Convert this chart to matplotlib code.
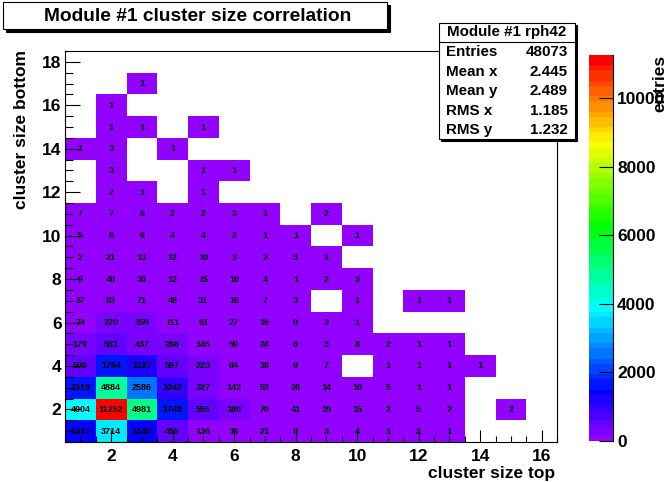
import colorsys
import numpy as np
import matplotlib
matplotlib.use("Agg")
import matplotlib.pyplot as plt
from matplotlib.colors import ListedColormap, BoundaryNorm
from matplotlib.patches import Rectangle
from matplotlib.ticker import MultipleLocator

plt.rcParams['font.family'] = ['Liberation Sans', 'DejaVu Sans']
plt.rcParams['font.weight'] = 'bold'

# ---- data -------------------------------------------------------------
cluster_top = list(range(1, 17))      # x bins (cluster size top)
cluster_bottom = list(range(1, 19))   # y bins (cluster size bottom)

# counts per row (cluster size bottom = 1 .. 18), columns = cluster size top 1 .. 16
row_1 = [1417, 3714, 1440, 455, 136, 38, 21, 8, 3, 4, 1, 2, 1, 0, 0, 0]
row_2 = [4004, 11252, 4981, 1748, 555, 180, 70, 41, 19, 15, 2, 5, 2, 0, 2, 0]
row_3 = [1519, 4884, 2586, 1042, 327, 142, 53, 26, 14, 10, 5, 1, 1, 0, 0, 0]
row_4 = [508, 1754, 1127, 597, 223, 84, 38, 9, 7, 0, 1, 1, 1, 1, 0, 0]
row_5 = [179, 581, 437, 288, 145, 59, 24, 6, 3, 8, 2, 1, 1, 0, 0, 0]
row_6 = [74, 220, 159, 111, 61, 27, 16, 9, 3, 1, 0, 0, 0, 0, 0, 0]
row_7 = [37, 83, 71, 48, 31, 16, 7, 3, 0, 1, 0, 1, 1, 0, 0, 0]
row_8 = [9, 48, 30, 12, 15, 10, 4, 1, 2, 3, 0, 0, 0, 0, 0, 0]
row_9 = [2, 21, 13, 12, 10, 3, 2, 3, 1, 0, 0, 0, 0, 0, 0, 0]
row_10 = [5, 8, 6, 4, 4, 2, 1, 1, 0, 1, 0, 0, 0, 0, 0, 0]
row_11 = [7, 7, 6, 2, 2, 3, 1, 0, 2, 0, 0, 0, 0, 0, 0, 0]
row_12 = [0, 2, 1, 0, 1, 0, 0, 0, 0, 0, 0, 0, 0, 0, 0, 0]
row_13 = [0, 3, 0, 0, 1, 1, 0, 0, 0, 0, 0, 0, 0, 0, 0, 0]
row_14 = [1, 3, 0, 1, 0, 0, 0, 0, 0, 0, 0, 0, 0, 0, 0, 0]
row_15 = [0, 1, 1, 0, 1, 0, 0, 0, 0, 0, 0, 0, 0, 0, 0, 0]
row_16 = [0, 1, 0, 0, 0, 0, 0, 0, 0, 0, 0, 0, 0, 0, 0, 0]
row_17 = [0, 0, 1, 0, 0, 0, 0, 0, 0, 0, 0, 0, 0, 0, 0, 0]
row_18 = [0] * 16

rows = [row_1, row_2, row_3, row_4, row_5, row_6, row_7, row_8, row_9,
        row_10, row_11, row_12, row_13, row_14, row_15, row_16, row_17, row_18]

title_text = "Module #1 cluster size correlation"
stats_name = "Module #1 rph42"
stats_labels = ["Entries", "Mean x", "Mean y", "RMS x", "RMS y"]
stats_values = ["48073", "2.445", "2.489", "1.185", "1.232"]
x_ticks = [2, 4, 6, 8, 10, 12, 14, 16]
y_ticks = [2, 4, 6, 8, 10, 12, 14, 16, 18]
z_ticks = [0, 2000, 4000, 6000, 8000, 10000]

# ---- figure -----------------------------------------------------------
W, H = 667, 482
fig = plt.figure(figsize=(W / 100, H / 100), dpi=100)

def fx(px):
    return px / W

def fy(py):
    return 1 - py / H

Z = np.array(rows, dtype=float)
Zm = np.ma.masked_where(Z <= 0, Z)
zmax = Z.max()

# ROOT "pretty" HLS palette (50 colours) mapped onto contour levels
ncol = 50
palette = []
for i in range(ncol):
    hue = 280 - (i + 1) * 280.0 / ncol
    palette.append(colorsys.hls_to_rgb(hue / 360.0, 0.5, 1.0))
ndivz = 75
cols = [palette[min(ncol - 1, int((k + 0.99) * ncol / ndivz))] for k in range(ndivz)]
cmap = ListedColormap(cols)
levels = np.linspace(0, zmax, ndivz + 1)
norm = BoundaryNorm(levels, ndivz)

ax = fig.add_axes([fx(65), fy(442), fx(557) - fx(65), fy(51) - fy(442)])
xe = np.arange(len(cluster_top) + 1) + 0.5
ye = np.arange(len(cluster_bottom) + 1) + 0.5
mesh = ax.pcolormesh(xe, ye, Zm, cmap=cmap, norm=norm, shading='flat')

for j, yv in enumerate(cluster_bottom):
    for i, xv in enumerate(cluster_top):
        v = Z[j, i]
        if v > 0:
            ax.text(xv, yv, "%d" % v, ha='center', va='center',
                    fontsize=6.5, fontweight='bold', color='black')

ax.set_xlim(0.5, 16.5)
ax.set_ylim(0.5, 18.5)
ax.set_xticks(x_ticks)
ax.set_yticks(y_ticks)
ax.xaxis.set_minor_locator(MultipleLocator(0.5))
ax.yaxis.set_minor_locator(MultipleLocator(0.5))
ax.tick_params(axis='x', which='major', direction='in', length=8.6, width=0.8,
               labelsize=12.5, pad=5, top=False)
ax.tick_params(axis='x', which='minor', direction='in', length=4.3, width=0.8, top=False)
ax.tick_params(axis='y', which='major', direction='in', length=11, width=0.8,
               labelsize=12.5, pad=2.5, right=False)
ax.tick_params(axis='y', which='minor', direction='in', length=5.5, width=0.8, right=False)
for lab in ax.get_xticklabels() + ax.get_yticklabels():
    lab.set_fontweight('bold')
for s in ax.spines.values():
    s.set_linewidth(0.8)

fig.text(fx(555), fy(478), "cluster size top", ha='right', va='baseline',
         fontsize=12.5, fontweight='bold')
fig.text(fx(22), fy(50), "cluster size bottom", ha='center', va='top',
         rotation=90, fontsize=12.5, fontweight='bold')

# colorbar
cax = fig.add_axes([fx(589), fy(441), fx(613) - fx(589), fy(55) - fy(441)])
cb = fig.colorbar(mesh, cax=cax, ticks=z_ticks)
cb.outline.set_visible(False)
cax.plot([1, 1], [0, 1], transform=cax.transAxes, color='black', lw=0.8, clip_on=False)
cax.tick_params(direction='in', length=10, width=0.8, labelsize=12.5, pad=3)
cax.minorticks_off()
cax.set_yticklabels(["%d" % t for t in z_ticks], fontweight='bold')
fig.text(fx(660), fy(55), "entries", ha='center', va='top', rotation=90,
         fontsize=12.5, fontweight='bold')

# title box with shadow
def box(x0, y0, x1, y1, shadow=3):
    fig.patches.append(Rectangle((fx(x0 + shadow), fy(y1 + shadow)),
                                 fx(x1 - x0), fy(y0) - fy(y1), transform=fig.transFigure,
                                 facecolor='black', edgecolor='black', lw=0.8, zorder=5))
    fig.patches.append(Rectangle((fx(x0), fy(y1)), fx(x1 - x0), fy(y0) - fy(y1),
                                 transform=fig.transFigure, facecolor='white',
                                 edgecolor='black', lw=0.8, zorder=6))

box(3, 2, 387, 29, shadow=3)
fig.text(fx(198), fy(16.5), title_text, ha='center', va='center', fontsize=13.8,
         fontweight='bold', zorder=7)

# stats box
box(439, 23, 575, 139, shadow=2)
fig.add_artist(plt.Line2D([fx(439), fx(575)], [fy(42), fy(42)], color='black', lw=0.8,
                          transform=fig.transFigure, zorder=7))
fig.text(fx(507), fy(32), stats_name, ha='center', va='center', fontsize=10.9,
         fontweight='bold', zorder=7)
row_y = [52, 72, 91, 111, 130]
for lab, val, yy in zip(stats_labels, stats_values, row_y):
    fig.text(fx(446), fy(yy), lab, ha='left', va='center', fontsize=10.9,
             fontweight='bold', zorder=7)
    fig.text(fx(568), fy(yy), val, ha='right', va='center', fontsize=10.9,
             fontweight='bold', zorder=7)

fig.savefig("out.png", dpi=100)
